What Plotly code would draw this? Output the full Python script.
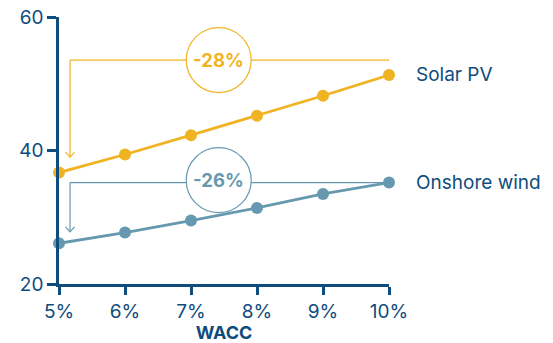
import plotly.graph_objects as go

wacc = [5, 6, 7, 8, 9, 10]
wacc_labels = ["5%", "6%", "7%", "8%", "9%", "10%"]
solar_pv = [36.7, 39.4, 42.3, 45.2, 48.2, 51.3]
onshore_wind = [26.1, 27.7, 29.5, 31.4, 33.5, 35.2]
series_names = ["Solar PV", "Onshore wind"]
change_labels = ["-28%", "-26%"]
y_ticks = [20, 40, 60]

NAVY = "#0E4C7E"
ORANGE = "#F0B323"
BLUE = "#6699B0"
FONT = "Inter, Roboto, sans-serif"

fig = go.Figure()
for vals, col in [(solar_pv, ORANGE), (onshore_wind, BLUE)]:
    fig.add_trace(go.Scatter(
        x=wacc, y=vals, mode="lines+markers",
        line=dict(color=col, width=2.8),
        marker=dict(color=col, size=12),
        cliponaxis=False, showlegend=False, hoverinfo="skip"))

shapes = []
annotations = []
# (values, colour, label, bracket level, arrow tip, circle centre offset)
brackets = [
    (solar_pv, ORANGE, change_labels[0], solar_pv[-1] + 2.25, solar_pv[0] + 2.3, 0.0),
    (onshore_wind, BLUE, change_labels[1], onshore_wind[-1], onshore_wind[0] + 1.7, 0.35),
]
x_left = wacc[0] + 0.167
x_circle = 7.42
for vals, col, lab, ylev, yend, dc in brackets:
    shapes.append(dict(type="line", xref="x", yref="y", x0=x_left, x1=wacc[-1],
                       y0=ylev, y1=ylev, line=dict(color=col, width=1.2), layer="below"))
    shapes.append(dict(type="line", xref="x", yref="y", x0=x_left, x1=x_left,
                       y0=ylev, y1=yend, line=dict(color=col, width=1.2), layer="below"))
    shapes.append(dict(type="path", xref="x", yref="y", xsizemode="pixel", ysizemode="pixel",
                       xanchor=x_left, yanchor=yend,
                       path="M -4.5 5 L 0 0 L 4.5 5",
                       line=dict(color=col, width=1.2)))
    shapes.append(dict(type="circle", xref="x", yref="y", xsizemode="pixel", ysizemode="pixel",
                       xanchor=x_circle, yanchor=ylev + dc, x0=-32.5, x1=32.5, y0=-32.5, y1=32.5,
                       fillcolor="white", line=dict(color=col, width=1.2), layer="below"))
    annotations.append(dict(x=x_circle, y=ylev + dc, xref="x", yref="y", text="<b>" + lab + "</b>",
                            showarrow=False, font=dict(family=FONT, size=18.5, color=col)))

for vals, name, dy in [(solar_pv, series_names[0], 1), (onshore_wind, series_names[1], 0)]:
    annotations.append(dict(x=wacc[-1], y=vals[-1], xref="x", yref="y", text=name,
                            showarrow=False, xanchor="left", xshift=25, yshift=dy,
                            font=dict(family=FONT, size=19, color=NAVY)))

fig.update_layout(
    width=545, height=335,
    margin=dict(l=51, r=164, t=9, b=59, autoexpand=False),
    paper_bgcolor="white", plot_bgcolor="white",
    shapes=shapes, annotations=annotations,
    xaxis=dict(range=[5, 10], tickvals=wacc, ticktext=wacc_labels, automargin=False,
               showgrid=False, zeroline=False, showline=True, linecolor=NAVY, linewidth=2.5,
               ticks="outside", ticklen=8, tickwidth=2.5, tickcolor=NAVY,
               ticklabeloverflow="allow",
               tickfont=dict(family=FONT, size=19, color=NAVY),
               title=dict(text="<b>WACC</b>", font=dict(family=FONT, size=18, color=NAVY), standoff=2)),
    yaxis=dict(range=[20, 60], tickvals=y_ticks, automargin=False,
               showgrid=False, zeroline=False, showline=True, linecolor=NAVY, linewidth=2.5,
               ticks="outside", ticklen=9, tickwidth=2.5, tickcolor=NAVY,
               ticklabeloverflow="allow",
               tickfont=dict(family=FONT, size=19, color=NAVY)),
)

fig.write_html("out.html")
